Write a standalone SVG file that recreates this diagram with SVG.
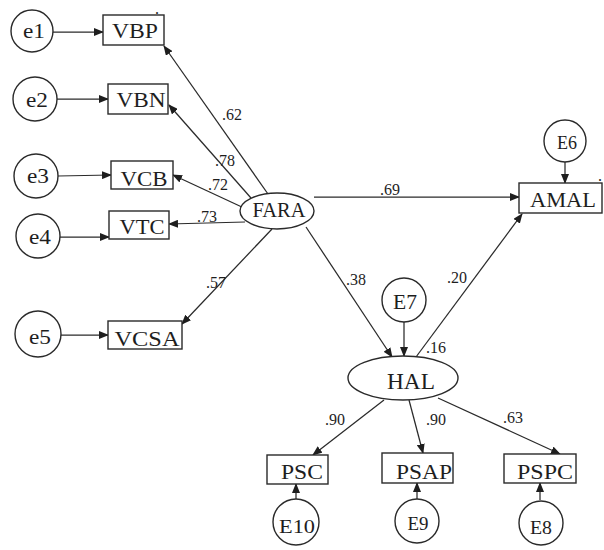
<svg xmlns="http://www.w3.org/2000/svg" width="604" height="550" viewBox="0 0 604 550">
<style>
.n{fill:#fff;stroke:#2a2a2a;stroke-width:1.4}
.t{font-family:"Liberation Serif","Times New Roman",serif;fill:#1e1e1e;text-anchor:middle}
.l{font-family:"Liberation Serif","Times New Roman",serif;fill:#1e1e1e;font-size:16px}
.c line{stroke:#2a2a2a;stroke-width:1.25;marker-end:url(#a)}
</style>
<defs>
<marker id="a" markerUnits="userSpaceOnUse" markerWidth="10" markerHeight="8" refX="9" refY="4" orient="auto">
<path d="M0,0 L10,4 L0,8 z" fill="#1e1e1e"/>
</marker>
</defs>
<rect width="604" height="550" fill="#fff"/>
<g class="c" id="connectors">
<line x1="53" y1="32" x2="103" y2="32"/>
<line x1="57" y1="99" x2="108" y2="99"/>
<line x1="58" y1="176" x2="111" y2="175"/>
<line x1="60" y1="237" x2="109" y2="237"/>
<line x1="61" y1="335" x2="108" y2="335"/>
<line x1="268" y1="194" x2="164" y2="46"/>
<line x1="251" y1="198" x2="169" y2="105"/>
<line x1="244" y1="208" x2="173" y2="175"/>
<line x1="245" y1="222" x2="169" y2="224"/>
<line x1="272" y1="229" x2="182" y2="324"/>
<line x1="314" y1="197" x2="519" y2="197"/>
<line x1="306" y1="227" x2="392" y2="357"/>
<line x1="416" y1="357" x2="522" y2="214"/>
<line x1="404" y1="322" x2="404" y2="356"/>
<line x1="565" y1="162" x2="565" y2="183"/>
<line x1="384" y1="400" x2="313" y2="455"/>
<line x1="409" y1="400" x2="423" y2="453"/>
<line x1="438" y1="398" x2="560" y2="454"/>
<line x1="296" y1="499" x2="296" y2="484"/>
<line x1="417" y1="499" x2="417" y2="483"/>
<line x1="540" y1="500" x2="540" y2="483"/>
</g>
<g id="labels">
<text class="l" x="222" y="120">.62</text>
<text class="l" x="215" y="166">.78</text>
<text class="l" x="208" y="190">.72</text>
<text class="l" x="197" y="222">.73</text>
<text class="l" x="206" y="288">.57</text>
<text class="l" x="380" y="195">.69</text>
<text class="l" x="346" y="285">.38</text>
<text class="l" x="447" y="283">.20</text>
<text class="l" x="426" y="353">.16</text>
<text class="l" x="325" y="425">.90</text>
<text class="l" x="426" y="425">.90</text>
<text class="l" x="503" y="423">.63</text>
<text class="l" x="155" y="14" font-size="12">.</text>
<text class="l" x="598" y="181" font-size="12">.</text>
</g>
<g id="e1"><circle class="n" cx="32" cy="31" r="21"/><text class="t" x="34" y="38" font-size="21" textLength="22" lengthAdjust="spacingAndGlyphs">e1</text></g>
<g id="e2"><circle class="n" cx="35" cy="99" r="22"/><text class="t" x="37" y="107" font-size="21" textLength="22" lengthAdjust="spacingAndGlyphs">e2</text></g>
<g id="e3"><circle class="n" cx="36" cy="176" r="22"/><text class="t" x="38" y="183" font-size="21" textLength="22" lengthAdjust="spacingAndGlyphs">e3</text></g>
<g id="e4"><circle class="n" cx="38" cy="236" r="22"/><text class="t" x="40" y="244" font-size="21" textLength="22" lengthAdjust="spacingAndGlyphs">e4</text></g>
<g id="e5"><circle class="n" cx="38" cy="334" r="23"/><text class="t" x="40" y="344" font-size="21" textLength="22" lengthAdjust="spacingAndGlyphs">e5</text></g>
<g id="VBP"><rect class="n" x="103" y="15" width="61" height="30"/><text class="t" x="135" y="38" font-size="21" textLength="46" lengthAdjust="spacingAndGlyphs">VBP</text></g>
<g id="VBN"><rect class="n" x="108" y="84" width="60" height="30"/><text class="t" x="141" y="107" font-size="21" textLength="49" lengthAdjust="spacingAndGlyphs">VBN</text></g>
<g id="VCB"><rect class="n" x="111" y="161" width="62" height="28"/><text class="t" x="144" y="186" font-size="21" textLength="47" lengthAdjust="spacingAndGlyphs">VCB</text></g>
<g id="VTC"><rect class="n" x="109" y="211" width="60" height="28"/><text class="t" x="142" y="234" font-size="21" textLength="45" lengthAdjust="spacingAndGlyphs">VTC</text></g>
<g id="VCSA"><rect class="n" x="108" y="321" width="74" height="28"/><text class="t" x="147" y="346" font-size="21" textLength="65" lengthAdjust="spacingAndGlyphs">VCSA</text></g>
<g id="FARA"><ellipse class="n" cx="277" cy="211" rx="37" ry="18"/><text class="t" x="279" y="217" font-size="20" textLength="53" lengthAdjust="spacingAndGlyphs">FARA</text></g>
<g id="AMAL"><rect class="n" x="519" y="183" width="83" height="30"/><text class="t" x="563" y="207" font-size="22" textLength="66" lengthAdjust="spacingAndGlyphs">AMAL</text></g>
<g id="E6"><circle class="n" cx="565" cy="141" r="21"/><text class="t" x="567" y="149" font-size="19" textLength="20" lengthAdjust="spacingAndGlyphs">E6</text></g>
<g id="E7"><circle class="n" cx="404" cy="300" r="22"/><text class="t" x="405" y="309" font-size="20" textLength="24" lengthAdjust="spacingAndGlyphs">E7</text></g>
<g id="HAL"><ellipse class="n" cx="403" cy="378" rx="55" ry="22"/><text class="t" x="411" y="389" font-size="24" textLength="48" lengthAdjust="spacingAndGlyphs">HAL</text></g>
<g id="PSC"><rect class="n" x="267" y="455" width="61" height="29"/><text class="t" x="302" y="479" font-size="21" textLength="42" lengthAdjust="spacingAndGlyphs">PSC</text></g>
<g id="PSAP"><rect class="n" x="382" y="453" width="71" height="30"/><text class="t" x="424" y="479" font-size="21" textLength="56" lengthAdjust="spacingAndGlyphs">PSAP</text></g>
<g id="PSPC"><rect class="n" x="504" y="454" width="72" height="29"/><text class="t" x="545" y="479" font-size="21" textLength="56" lengthAdjust="spacingAndGlyphs">PSPC</text></g>
<g id="E10"><circle class="n" cx="296" cy="522" r="23"/><text class="t" x="297" y="533" font-size="19" textLength="36" lengthAdjust="spacingAndGlyphs">E10</text></g>
<g id="E9"><circle class="n" cx="417" cy="521" r="22"/><text class="t" x="418" y="530" font-size="19" textLength="21" lengthAdjust="spacingAndGlyphs">E9</text></g>
<g id="E8"><circle class="n" cx="541" cy="523" r="22"/><text class="t" x="541" y="534" font-size="19" textLength="22" lengthAdjust="spacingAndGlyphs">E8</text></g>
</svg>
